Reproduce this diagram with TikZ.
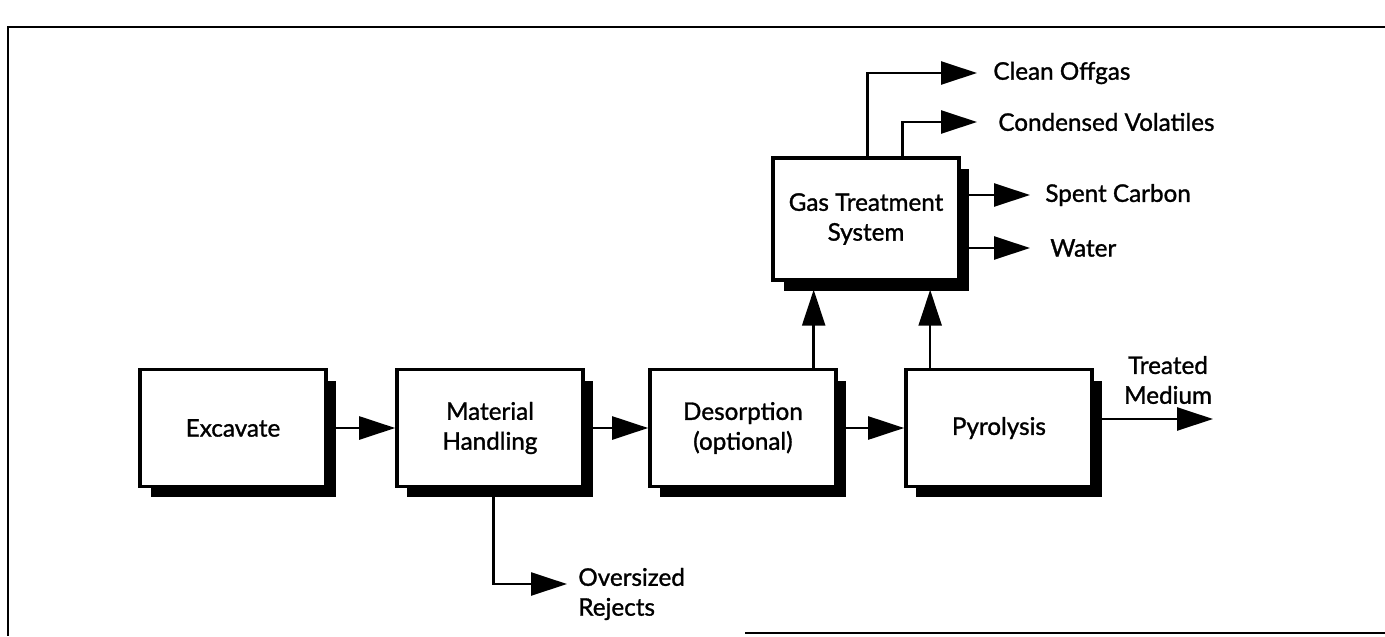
\documentclass[tikz,border=0pt]{standalone}
\usepackage{fontspec}
\setmainfont{Lato}[FakeBold=1.2]
\usetikzlibrary{arrows.meta, positioning, shadows}

\begin{document}
\begin{tikzpicture}[x=0.02cm, y=-0.02cm,
    step_box/.style={rectangle, draw, line width=2pt, fill=white,
        minimum width=3.72cm, minimum height=2.34cm, align=center,
        font=\fontsize{13.8}{17}\selectfont,
        general shadow={fill=black, shadow xshift=0.21cm, shadow yshift=-0.22cm}},
    label_text/.style={rectangle, inner sep=0pt, align=left,
        font=\fontsize{13.8}{17}\selectfont},
    flow/.style={line width=1.4pt, -{Triangle[length=0.72cm, width=0.46cm]}}]

        \useasboundingbox (0,0) rectangle (1385,636);

        % frame
        \draw[line width=0.9pt] (1385,27) -- (8,27) -- (8,636);
        \draw[line width=0.9pt] (745,633) -- (1385,633);

        \node[step_box] (exc) at (233,428) {Excavate};

        \node[step_box] (mat) [right=1.35cm of exc] {Material\\Handling};

        \node[step_box] (des) [right=1.27cm of mat] {Desorption\\(optional)};

        \node[step_box] (pyr) [right=1.33cm of des] {Pyrolysis};

        \node[step_box, minimum height=2.44cm] (gas) at (866,219)
              {Gas Treatment\\System};

        \node[label_text, anchor=west] (clean) at (993,73) {Clean Offgas};
        \node[label_text, anchor=west] (cond) at (998,122) {Condensed Volatiles};
        \node[label_text, anchor=west] (spent) at (1045,195) {Spent Carbon};
        \node[label_text, anchor=west] (water) at (1050,248) {Water};

        \node[label_text, anchor=west] (over) at (578,594) {Oversized\\Rejects};

        \node[label_text, align=center] (treated) at (1168,380) {Treated\\Medium};
        \coordinate (out_end) at (1213,419);

        \draw[flow] (exc) -- (mat);
        \draw[flow] (mat) -- (des);
        \draw[flow] (des) -- (pyr);
        \draw[flow] (pyr.east |- out_end) -- (out_end);

        \draw[flow] ([xshift=-0.48cm]des.north east)
            -- ([xshift=-0.48cm, yshift=-0.16cm]des.north east |- gas.south);
        \draw[flow] ([xshift=0.52cm]pyr.north west)
            -- ([xshift=0.52cm, yshift=-0.16cm]pyr.north west |- gas.south);

        \draw[flow, shorten >=0.32cm] ([xshift=0.03cm]gas.north) |- (clean.west);
        \draw[flow, shorten >=0.42cm] ([xshift=0.73cm]gas.north) |- (cond.west);
        \draw[flow, shorten >=0.3cm] (gas.east |- spent.west) -- (spent.west);
        \draw[flow, shorten >=0.4cm] (gas.east |- water.west) -- (water.west);

        \draw[flow] ([xshift=0.07cm]mat.south)
            |- ([xshift=-0.22cm, yshift=0.2cm]over.west);

    \end{tikzpicture}
\end{document}
